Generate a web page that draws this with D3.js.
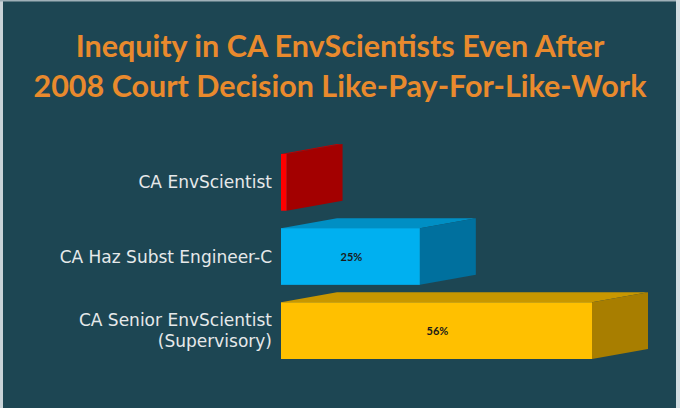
<!DOCTYPE html>
<html>
<head>
<meta charset="utf-8">
<script src="https://cdn.jsdelivr.net/npm/d3@7"></script>
<style>
    html, body { margin: 0; padding: 0; background: #1d4653; }
    svg { display: block; }
</style>
</head>
<body>
<div id="graph"></div>
<script>
/*
    Pay inequity chart, 3D-looking horizontal bars
*/

// Data
var categories = [ "CA EnvScientist", "CA Haz Subst Engineer-C", "CA Senior EnvScientist\n(Supervisory)" ]
var values = [ 1, 25, 56 ]
var valueLabels = [ "", "25%", "56%" ]
var titleLines = [ "Inequity in CA EnvScientists Even After", "2008 Court Decision Like-Pay-For-Like-Work" ]

// Colours of each bar: front, top, side
var palette = [
    { front: "#ff0000", top: "#c00000", side: "#a30000" },
    { front: "#00b0f0", top: "#008fc4", side: "#00709e" },
    { front: "#ffc000", top: "#c89700", side: "#a87e00" }
]

var data = categories.map(function ( c, i ) {
    return { "category": c, "value": values[i], "label": valueLabels[i], "color": palette[i] }
})

var W = 680, H = 408
var depth = { dx: 56, dy: -10 }

var svg = d3.select("#graph").append("svg")
            .attr("width", W)
            .attr("height", H)

// background and frame
svg.append("rect")
    .attr("width", W).attr("height", H)
    .attr("fill", "#1d4653")
svg.append("rect").attr("x", 0).attr("y", 0).attr("width", 3).attr("height", H).attr("fill", "#c9d3d8")
svg.append("rect").attr("x", 0).attr("y", 0).attr("width", W).attr("height", 1.5).attr("fill", "#9fb0b8")
svg.append("rect").attr("x", 676).attr("y", 0).attr("width", 4).attr("height", H).attr("fill", "#d3dde2")

// title
svg.selectAll("text.title")
    .data(titleLines)
    .enter()
    .append("text")
    .attr("class", "title")
    .attr("x", 340)
    .attr("y", function ( d, i ) { return 57 + i * 40 })
    .attr("text-anchor", "middle")
    .attr("font-family", "Lato, 'Open Sans', sans-serif")
    .attr("font-weight", "bold")
    .attr("font-size", 30.5)
    .attr("fill", "#e98a2d")
    .text(function ( d ) { return d })

// scales
var x = d3.scaleLinear()
          .domain([0, 56])
          .range([281, 592])

var y = d3.scaleBand()
          .domain(categories)
          .range([154, 359])
          .paddingInner(0.235)
          .paddingOuter(0)

var bh = y.bandwidth()

var bars = svg.selectAll("g.bar")
    .data(data)
    .enter()
    .append("g")
    .attr("class", "bar")

// top face
bars.append("path")
    .attr("fill", function ( d ) { return d.color.top })
    .attr("d", function ( d ) {
        var x0 = x(0), x1 = x(d.value), yt = y(d.category)
        return "M" + x0 + "," + yt +
               "L" + (x0 + depth.dx) + "," + (yt + depth.dy) +
               "L" + (x1 + depth.dx) + "," + (yt + depth.dy) +
               "L" + x1 + "," + yt + "Z"
    })

// side face
bars.append("path")
    .attr("fill", function ( d ) { return d.color.side })
    .attr("d", function ( d ) {
        var x1 = x(d.value), yt = y(d.category)
        return "M" + x1 + "," + yt +
               "L" + (x1 + depth.dx) + "," + (yt + depth.dy) +
               "L" + (x1 + depth.dx) + "," + (yt + bh + depth.dy) +
               "L" + x1 + "," + (yt + bh) + "Z"
    })

// front face
bars.append("rect")
    .attr("x", x(0))
    .attr("y", function ( d ) { return y(d.category) })
    .attr("width", function ( d ) { return x(d.value) - x(0) })
    .attr("height", bh)
    .attr("fill", function ( d ) { return d.color.front })

// value labels
bars.append("text")
    .attr("x", function ( d ) { return (x(0) + x(d.value)) / 2 + 1 })
    .attr("y", function ( d ) { return y(d.category) + bh / 2 + 4 })
    .attr("text-anchor", "middle")
    .attr("font-family", "Lato, sans-serif")
    .attr("font-weight", "bold")
    .attr("font-size", 11)
    .attr("fill", "#1a1a1a")
    .text(function ( d ) { return d.label })

// category labels
var cats = svg.selectAll("text.cat")
    .data(data)
    .enter()
    .append("text")
    .attr("class", "cat")
    .attr("text-anchor", "end")
    .attr("font-family", "'DejaVu Sans', sans-serif")
    .attr("font-size", 17)
    .attr("fill", "#e6e9ea")

cats.each(function ( d ) {
    var lines = d.category.split("\n")
    var cy = y(d.category) + bh / 2
    var first = cy + 6 - (lines.length - 1) * 21 / 2
    d3.select(this).selectAll("tspan")
        .data(lines)
        .enter()
        .append("tspan")
        .attr("x", 272)
        .attr("y", function ( l, i ) { return first + i * 21 })
        .text(function ( l ) { return l })
})
</script>
</body>
</html>
